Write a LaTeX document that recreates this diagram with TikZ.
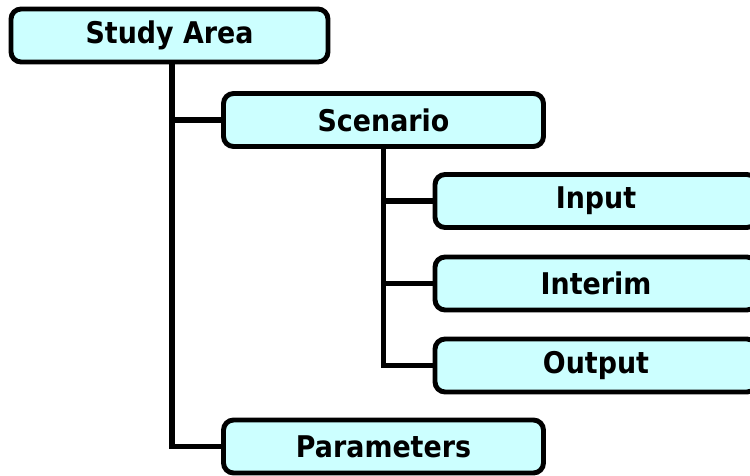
\documentclass[tikz,border=0pt]{standalone}
\usepackage{fontspec}
\setmainfont{DejaVu Sans}[FakeStretch=0.9]
\usetikzlibrary{positioning}
\definecolor{boxcyan}{HTML}{CCFFFF}
\tikzstyle{folder} = [draw, line width=2.8pt, fill=boxcyan, rounded corners=0.2cm, minimum width=6.4cm, minimum height=1.06cm, inner sep=0pt, font=\fontsize{17}{20}\selectfont\bfseries]
\tikzstyle{link} = [line width=3.3pt]

\begin{document}
\begin{tikzpicture}[x=0.02cm, y=-0.02cm]
    \clip (0,0) rectangle (750,476);

    \node [folder, minimum width=6.34cm] (area) at (169.5,35.5) {Study Area};
    \node [folder] (scen) at (383.5,120) {Scenario};
    \node [folder, minimum width=6.44cm] (input) at (596,201) {Input};
    \node [folder, minimum width=6.44cm] (interim) at (596,283.5) {Interim};
    \node [folder, minimum width=6.44cm] (output) at (596,365.5) {Output};
    \node [folder] (param) at (383.5,446.5) {Parameters};

    \draw [link] ([xshift=0.05cm]area.south) |- (param.west);
    \draw [link] ([xshift=0.05cm]area.south |- scen.west) -- (scen.west);

    \draw [link] (scen.south) |- (output.west);
    \draw [link] (scen.south |- input.west) -- (input.west);
    \draw [link] (scen.south |- interim.west) -- (interim.west);
\end{tikzpicture}
\end{document}
